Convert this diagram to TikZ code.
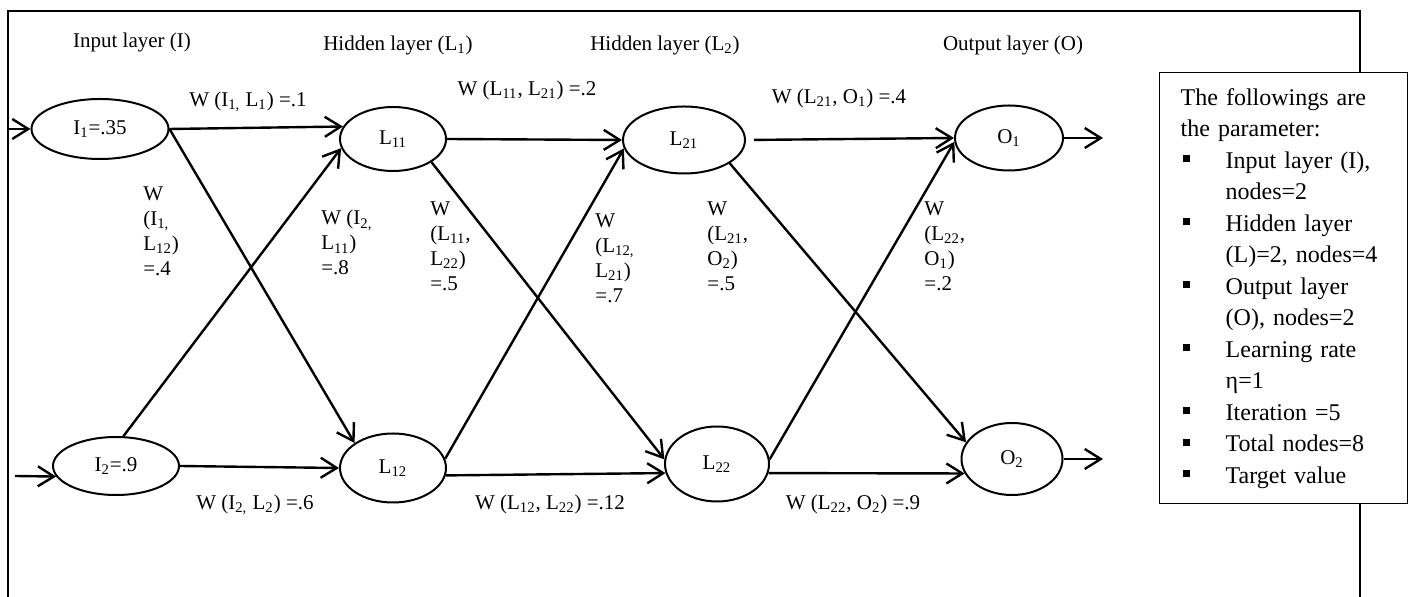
\documentclass[tikz,border=0pt]{standalone}
\usepackage{fontspec}
\setmainfont{Liberation Serif}
\usetikzlibrary{arrows.meta, shapes.geometric, positioning}

\newcommand{\pbul}{\makebox[22.5pt][l]{\hspace{1pt}\rule[2.8pt]{3.5pt}{3.5pt}}}
\newcommand{\pind}{\hspace*{22.5pt}}

\begin{document}
\begin{tikzpicture}[
  x=0.5pt, y=-0.5pt,
  every node/.style={font=\fontsize{10.5}{12.5}\selectfont, inner sep=0pt},
  neuron/.style={draw, ellipse, line width=1pt},
  wire/.style={line width=1.2pt, -{Straight Barb[length=8pt, width=10pt]}},
  wlbl/.style={align=left, anchor=north west},
  parambox/.style={draw, fill=white, line width=0.7pt, anchor=north west,
    minimum width=124pt, minimum height=215.5pt, inner xsep=10.5pt,
    text width=103pt, align=left, font=\fontsize{12}{15.75}\selectfont}
]
  \useasboundingbox (0,0) rectangle (1414,597);
  \draw[line width=1pt] (8,597) -- (8,11) -- (1360,11) -- (1360,597);

  \foreach \nm/\xx/\yy/\lbl in {tI/132/42/Input layer (I),
      tL1/398/45/Hidden layer (L\textsubscript{1}),
      tL2/665/45/Hidden layer (L\textsubscript{2}),
      tO/1013/45/Output layer (O)} {
    \node (\nm) at (\xx,\yy) {\lbl};
  }

  \node[neuron, minimum width=68.5pt, minimum height=30pt] (I1) at (100,129) {I\textsubscript{1}=.35};
  \node[neuron, minimum width=63pt, minimum height=29pt] (I2) at (116,466) {I\textsubscript{2}=.9};
  \node[neuron, minimum width=53pt, minimum height=32pt] (L11) at (393,139) {L\textsubscript{11}};
  \node[neuron, minimum width=53pt, minimum height=34.5pt] (L12) at (393,468) {L\textsubscript{12}};
  \node[neuron, minimum width=61pt, minimum height=33.5pt] (L21) at (684,140) {L\textsubscript{21}};
  \node[neuron, minimum width=52pt, minimum height=37.5pt] (L22) at (717,464) {L\textsubscript{22}};
  \node[neuron, minimum width=54pt, minimum height=32.5pt] (O1) at (1009,138) {O\textsubscript{1}};
  \node[neuron, minimum width=50.5pt, minimum height=36pt] (O2) at (1012,459) {O\textsubscript{2}};

  \coordinate (in1) at (8,129);
  \coordinate (in2) at (15,476);
  \coordinate (out1) at (1103,138);
  \coordinate (out2) at (1103,459);

  \draw[wire] (in1) -- (I1.west);
  \draw[wire] (in2) -- (I2.190);
  \draw[wire] (O1.east) -- (out1);
  \draw[wire] (O2.east) -- (out2);

  \foreach \a/\b in {I1.east/L11.166, I1.east/L12.147, I2.76/L11.190, I2.east/L12.west,
      L11.east/L21.west, L11.329/L22.175, L12.10/L21.188, L12.352/L22.190,
      L21.333/O2.160, L22.5/O1.184, L22.350/O2.197} {
    \draw[wire] (\a) -- (\b);
  }
  \draw[wire, shorten <=4pt] (L21.east) -- (O1.west);

  \node (wA) at (248,102) {W (I\textsubscript{1,} L\textsubscript{1}) =.1};
  \node (wB) at (527,90) {W (L\textsubscript{11}, L\textsubscript{21}) =.2};
  \node (wC) at (839,98) {W (L\textsubscript{21}, O\textsubscript{1}) =.4};
  \node (wD) at (255,505) {W (I\textsubscript{2,} L\textsubscript{2}) =.6};
  \node (wE) at (550,504) {W (L\textsubscript{12}, L\textsubscript{22}) =.12};
  \node (wF) at (853,504) {W (L\textsubscript{22}, O\textsubscript{2}) =.9};

  \node[wlbl] (wG) at (143,186) {W\\(I\textsubscript{1,}\\L\textsubscript{12})\\=.4};
  \node[wlbl] (wH) at (321,210) {W (I\textsubscript{2,}\\L\textsubscript{11})\\=.8};
  \node[wlbl] (wI) at (430,201) {W\\(L\textsubscript{11},\\L\textsubscript{22})\\=.5};
  \node[wlbl] (wJ) at (595,213) {W\\(L\textsubscript{12,}\\L\textsubscript{21})\\=.7};
  \node[wlbl] (wK) at (707,201) {W\\(L\textsubscript{21},\\O\textsubscript{2})\\=.5};
  \node[wlbl] (wL) at (924,201) {W\\(L\textsubscript{22},\\O\textsubscript{1})\\=.2};

  \node[parambox] (params) at (1159,72) {The followings are\\the parameter:\\
    \pbul Input layer (I),\\\pind nodes=2\\
    \pbul Hidden layer\\\pind (L)=2, nodes=4\\
    \pbul Output layer\\\pind (O), nodes=2\\
    \pbul Learning rate\\\pind η=1\\
    \pbul Iteration =5\\
    \pbul Total nodes=8\\
    \pbul Target value};
\end{tikzpicture}
\end{document}
